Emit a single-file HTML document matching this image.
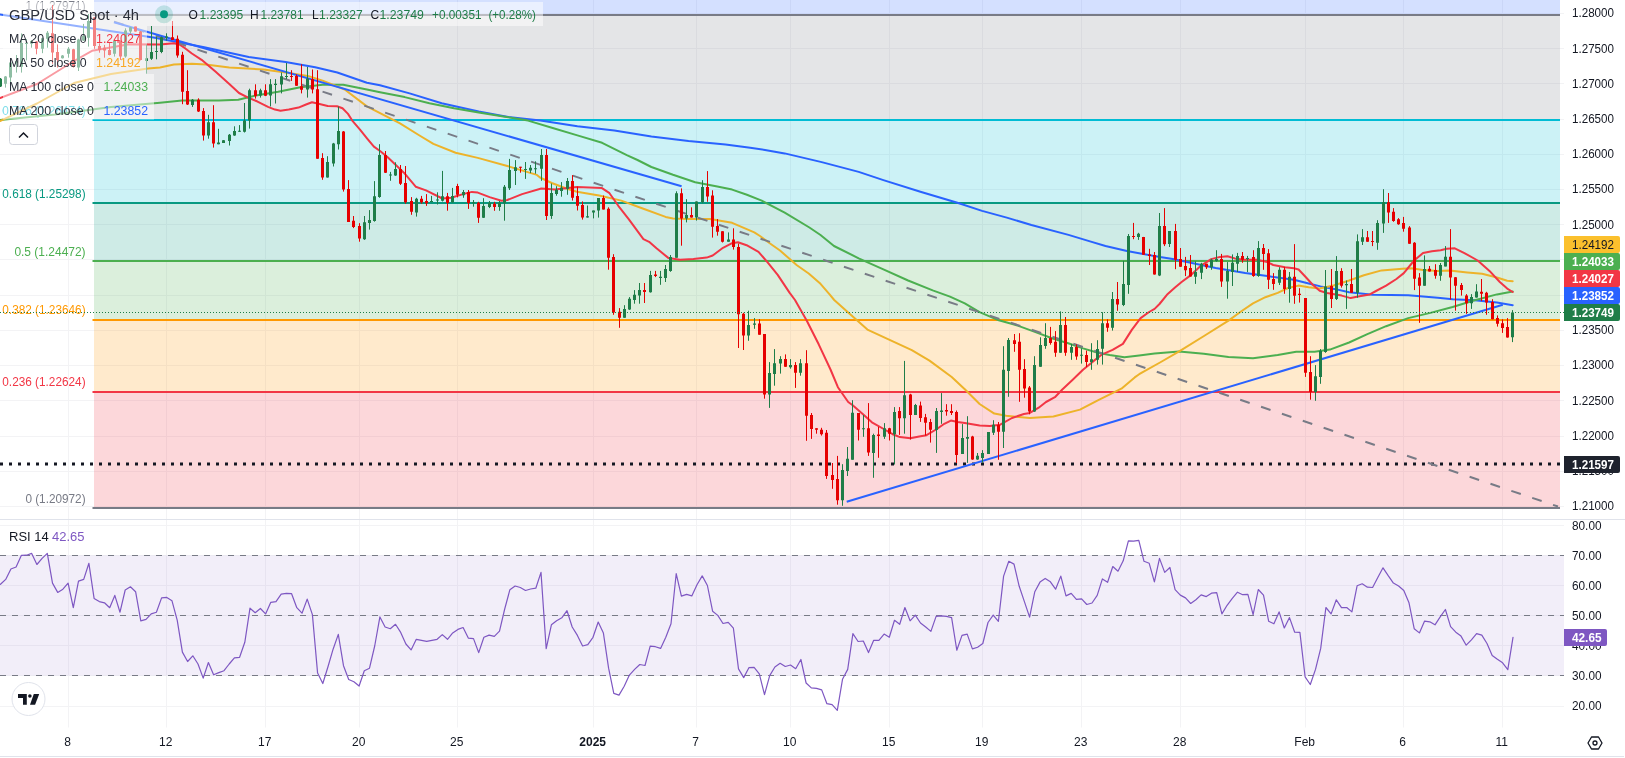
<!DOCTYPE html><html><head><meta charset="utf-8"><title>GBP/USD Spot 4h</title>
<style>html,body{margin:0;padding:0;background:#fff;}body{width:1625px;height:758px;overflow:hidden;font-family:"Liberation Sans", sans-serif;}svg{display:block;will-change:transform}text{font-family:"Liberation Sans", sans-serif;}</style></head><body>
<svg width="1625" height="758" viewBox="0 0 1625 758">
<rect width="1625" height="758" fill="#fff"/>
<path d="M68.5 0V727.5M166.5 0V727.5M265.5 0V727.5M359.5 0V727.5M457.5 0V727.5M593.5 0V727.5M696.5 0V727.5M790.5 0V727.5M889.5 0V727.5M982.5 0V727.5M1081.5 0V727.5M1180.5 0V727.5M1305.5 0V727.5M1403.5 0V727.5M1502.5 0V727.5M0 13.5H1564M0 48.5H1564M0 83.5H1564M0 119.5H1564M0 154.5H1564M0 189.5H1564M0 224.5H1564M0 259.5H1564M0 295.5H1564M0 330.5H1564M0 365.5H1564M0 400.5H1564M0 436.5H1564M0 471.5H1564M0 506.5H1564M0 706.5H1564M0 675.5H1564M0 645.5H1564M0 615.5H1564M0 585.5H1564M0 555.5H1564M0 525.5H1564" stroke="#f3f3f5" stroke-width="1" fill="none"/>
<rect x="94" y="0.0" width="1466" height="15.0" fill="#2962ff" fill-opacity="0.2"/>
<rect x="94" y="15.0" width="1466" height="105.4" fill="#787b86" fill-opacity="0.2"/>
<rect x="94" y="120.5" width="1466" height="82.8" fill="#00bcd4" fill-opacity="0.2"/>
<rect x="94" y="203.3" width="1466" height="58.2" fill="#089981" fill-opacity="0.2"/>
<rect x="94" y="261.4" width="1466" height="58.2" fill="#4caf50" fill-opacity="0.2"/>
<rect x="94" y="319.6" width="1466" height="72.0" fill="#ff9800" fill-opacity="0.2"/>
<rect x="94" y="391.6" width="1466" height="116.3" fill="#f23645" fill-opacity="0.2"/>
<path d="M92.5 15H1560" stroke="#787b86" stroke-width="2"/>
<path d="M92.5 120H1560" stroke="#00bcd4" stroke-width="2"/>
<path d="M92.5 203H1560" stroke="#089981" stroke-width="2"/>
<path d="M92.5 261H1560" stroke="#4caf50" stroke-width="2"/>
<path d="M92.5 320H1560" stroke="#ff9800" stroke-width="2"/>
<path d="M92.5 392H1560" stroke="#f23645" stroke-width="2"/>
<path d="M92.5 508H1560" stroke="#787b86" stroke-width="2"/>
<text x="25.4" y="9.8" font-size="12" fill="#787b86" textLength="60.2" lengthAdjust="spacingAndGlyphs">1 (1.27971)</text>
<text x="2.3" y="115.3" font-size="12" fill="#00bcd4" textLength="83.3" lengthAdjust="spacingAndGlyphs">0.786 (1.26474)</text>
<text x="2.3" y="198.1" font-size="12" fill="#089981" textLength="83.3" lengthAdjust="spacingAndGlyphs">0.618 (1.25298)</text>
<text x="14.4" y="256.2" font-size="12" fill="#4caf50" textLength="71.2" lengthAdjust="spacingAndGlyphs">0.5 (1.24472)</text>
<text x="2.3" y="314.4" font-size="12" fill="#ff9800" textLength="83.3" lengthAdjust="spacingAndGlyphs">0.382 (1.23646)</text>
<text x="2.3" y="386.4" font-size="12" fill="#f23645" textLength="83.3" lengthAdjust="spacingAndGlyphs">0.236 (1.22624)</text>
<text x="25.4" y="502.7" font-size="12" fill="#787b86" textLength="60.2" lengthAdjust="spacingAndGlyphs">0 (1.20972)</text>
<rect x="0" y="555.5" width="1564" height="120.0" fill="#7e57c2" fill-opacity="0.1"/>
<path d="M0 555.5H1564" stroke="#787b86" stroke-width="1" stroke-dasharray="6 6"/>
<path d="M0 615.5H1564" stroke="#787b86" stroke-width="1" stroke-dasharray="6 6"/>
<path d="M0 675.5H1564" stroke="#787b86" stroke-width="1" stroke-dasharray="6 6"/>
<path d="M0 463.9H1564" stroke="#131722" stroke-width="3" stroke-dasharray="3 6" stroke-dashoffset="0" fill="none"/>
<path d="M0.0 14.4L50.0 22.0L99.8 29.4L155.0 37.7L204.3 47.3L248.7 56.9L285.6 62.1L315.2 67.3L337.3 72.5L366.9 82.8L380.0 85.3L409.6 93.4L441.7 103.3L478.7 111.5L508.3 116.9L540.4 120.6L577.4 126.3L614.4 130.5L651.4 136.6L688.5 141.1L725.5 144.5L750.2 147.8L765.0 150.0L784.7 153.4L821.7 162.1L858.7 171.9L883.4 180.1L920.4 191.7L957.4 202.8L982.1 210.9L1006.8 217.6L1031.4 225.0L1068.5 234.9L1090.0 241.4L1105.5 246.0L1126.9 251.0L1160.0 257.1L1172.8 259.1L1215.6 268.0L1245.2 273.1L1267.3 276.1L1293.9 279.8L1308.7 283.5L1320.5 286.4L1334.3 288.9L1349.1 292.3L1372.8 294.7L1408.2 295.2L1423.0 296.6L1437.8 297.7L1452.6 299.2L1474.7 300.3L1496.9 302.6L1512.7 305.2" stroke="#2962ff" stroke-width="2" fill="none" stroke-linejoin="round" stroke-linecap="round"/>
<path d="M0.0 120.0L55.0 114.5L111.0 107.0L160.0 102.8L182.0 100.5L219.0 100.5L238.3 99.8L256.0 95.4L278.2 91.7L300.4 87.2L322.6 84.7L343.2 84.7L366.9 89.5L380.0 92.2L404.7 97.1L429.4 103.3L454.0 108.2L478.7 112.4L503.4 116.4L528.1 120.6L552.7 128.0L577.4 135.4L602.1 142.8L626.8 155.1L637.5 160.0L651.4 167.0L673.0 174.8L695.2 182.2L717.3 186.6L732.1 189.6L746.9 194.7L761.7 200.6L784.7 212.7L809.4 227.5L820.5 235.0L834.0 246.0L858.7 258.3L883.4 269.4L908.1 280.5L932.7 290.4L950.0 296.6L964.8 303.3L979.6 312.2L998.8 320.3L1015.0 324.7L1032.8 331.1L1053.4 338.8L1068.2 343.2L1083.0 348.4L1097.8 352.8L1109.6 355.0L1124.4 357.2L1139.2 355.5L1154.6 353.6L1179.2 351.4L1203.8 353.8L1228.5 356.9L1253.0 358.2L1277.7 355.1L1296.2 351.8L1314.6 351.8L1329.9 349.6L1349.1 342.5L1366.8 334.3L1386.1 326.2L1408.2 318.1L1430.4 312.9L1452.6 307.0L1474.7 300.3L1496.9 294.4L1512.7 291.5" stroke="#4caf50" stroke-width="2" fill="none" stroke-linejoin="round" stroke-linecap="round"/>
<path d="M0.0 121.0L37.0 103.5L74.0 83.0L111.0 74.0L148.0 68.4L160.0 67.4L173.9 64.6L191.9 63.7L205.7 64.6L229.3 67.4L263.4 69.5L285.6 72.5L307.8 75.9L322.6 80.6L344.7 89.5L366.9 106.4L400.0 123.4L418.7 135.0L433.4 143.9L455.6 152.7L477.8 157.9L507.3 166.0L536.9 174.9L540.0 177.5L551.7 183.0L566.4 188.5L576.9 191.8L599.1 195.5L621.3 200.6L643.4 208.8L665.6 216.9L673.0 218.4L687.8 219.1L710.0 219.1L732.1 222.8L754.3 232.4L760.0 236.0L769.0 242.8L780.0 250.5L796.9 265.3L808.7 273.5L820.5 283.8L830.0 294.8L834.2 300.0L848.2 312.6L867.4 329.6L889.6 339.9L911.8 350.2L929.5 360.6L951.7 377.0L964.8 389.2L979.6 404.0L994.3 413.6L1006.2 415.8L1029.8 418.0L1053.4 416.5L1080.0 409.6L1097.8 400.3L1121.4 388.7L1134.7 377.4L1139.2 374.2L1142.3 372.3L1160.0 362.5L1179.2 351.4L1204.0 336.0L1228.5 320.6L1241.0 311.5L1253.0 303.4L1265.4 297.2L1277.7 292.9L1288.0 288.0L1298.4 285.6L1308.7 287.2L1319.6 288.5L1334.3 285.2L1349.1 280.5L1363.9 275.3L1381.6 270.4L1402.3 268.7L1411.2 268.2L1423.0 270.1L1437.8 270.9L1449.6 270.4L1467.3 272.4L1482.1 273.8L1496.9 277.5L1507.2 280.8L1512.7 281.2" stroke="#edb32a" stroke-width="2" fill="none" stroke-linejoin="round" stroke-linecap="round"/>
<path d="M0.0 98.0L37.0 84.0L74.0 61.0L92.0 50.8L129.0 44.3L160.0 44.5L173.9 43.2L179.4 44.5L185.0 48.2L191.9 53.5L201.6 59.8L215.4 71.6L229.3 84.0L239.0 93.0L248.6 97.9L257.0 101.3L268.0 106.9L275.0 109.6L280.5 110.7L288.8 109.6L298.5 107.6L306.0 104.5L312.0 102.3L318.5 103.7L327.7 106.0L337.0 106.3L342.5 108.3L348.0 113.9L352.7 121.2L360.0 129.6L367.4 138.8L373.9 146.6L380.4 151.3L387.7 157.3L403.9 172.7L415.7 186.7L426.0 190.4L442.3 198.5L451.2 197.8L463.0 194.1L471.9 191.9L477.8 192.6L489.6 197.1L501.4 200.8L507.3 200.0L522.1 194.1L541.3 188.5L554.8 189.6L576.9 187.0L602.0 188.1L609.5 193.2L618.3 205.8L628.7 219.1L643.4 239.1L649.1 241.8L656.5 248.3L668.3 257.9L680.1 259.8L693.4 258.9L706.7 257.6L712.7 255.5L723.0 247.8L732.1 243.2L738.0 242.3L746.6 245.2L758.5 251.8L767.4 262.2L777.7 274.9L789.5 292.6L795.0 300.0L806.8 320.7L818.7 344.3L830.5 369.5L837.9 387.2L848.2 402.0L852.7 405.3L863.0 414.2L871.9 422.3L883.7 429.0L892.6 434.2L900.0 437.1L910.3 438.2L919.2 436.4L926.5 435.2L936.9 429.0L944.3 423.8L950.9 420.6L957.6 422.0L964.8 422.9L979.6 425.4L989.9 425.9L1000.2 424.7L1012.0 418.0L1023.9 414.0L1029.8 412.9L1038.7 407.7L1046.0 402.0L1054.9 397.2L1062.3 389.5L1072.7 379.8L1083.0 369.8L1091.9 362.4L1102.2 354.3L1112.6 349.8L1122.9 343.9L1131.8 329.9L1140.6 318.1L1149.1 312.0L1154.6 308.9L1159.5 304.0L1166.9 294.8L1175.0 287.5L1181.6 282.0L1190.5 275.4L1200.8 265.8L1211.2 259.1L1220.0 256.9L1227.4 256.2L1234.8 258.4L1243.7 259.8L1257.0 259.8L1267.3 262.1L1273.2 265.0L1285.1 267.2L1293.9 268.3L1298.6 269.5L1304.5 275.8L1312.5 284.5L1319.7 290.8L1326.9 293.0L1341.7 295.6L1350.6 298.1L1359.5 296.2L1369.8 294.4L1376.0 291.0L1386.1 285.7L1396.4 279.0L1403.8 273.1L1414.1 260.5L1423.0 253.1L1431.9 251.2L1440.7 250.2L1446.6 248.7L1454.8 248.3L1464.4 253.1L1477.7 260.5L1489.5 270.9L1499.8 282.0L1507.2 288.6L1512.7 292.0" stroke="#f23645" stroke-width="2" fill="none" stroke-linejoin="round" stroke-linecap="round"/>
<path d="M114 21.6L1558 506.5" stroke="#787b86" stroke-width="2" stroke-dasharray="10 12" fill="none"/>
<path d="M114 22.2L681.6 186.3" stroke="#2962ff" stroke-width="2" fill="none"/>
<path d="M846.7 501.7L1502.8 304.8" stroke="#2962ff" stroke-width="2" fill="none"/>
<path d="M0.5 78.0V87.0M5.5 76.0V87.6M10.5 62.0V82.0M16.5 55.0V72.6M21.5 33.4V72.6M26.5 39.0V60.4M31.5 40.0V47.7M42.5 37.7V53.2M47.5 31.0V47.7M62.5 55.0V58.5M68.5 47.1V57.7M78.5 38.8V71.0M83.5 23.9V41.0M88.5 14.0V46.6M114.5 39.9V56.6M125.5 28.3V57.7M130.5 27.0V33.8M146.5 44.4V73.7M151.5 26.0V59.9M156.5 36.6V59.3M161.5 36.6V53.2M166.5 33.3V40.5M192.5 99.0V106.9M208.5 114.8V138.7M218.5 128.8V144.3M223.5 140.0V143.0M229.5 134.0V145.5M234.5 126.3V135.8M239.5 125.1V131.8M244.5 103.0V132.5M249.5 88.7V128.6M260.5 88.7V97.6M270.5 79.1V106.4M275.5 79.1V103.5M281.5 72.5V93.4M286.5 62.9V79.1M307.5 67.0V97.6M327.5 156.2V177.6M333.5 142.9V166.5M338.5 106.6V149.5M364.5 216.0V239.9M369.5 210.1V229.6M374.5 181.1V221.7M379.5 144.2V197.8M390.5 171.9V180.8M395.5 162.3V175.9M416.5 197.8V216.6M431.5 195.9V202.2M437.5 192.3V204.5M442.5 170.9V201.5M452.5 187.9V202.7M463.5 190.0V197.8M473.5 200.0V206.7M483.5 198.2V218.0M489.5 201.0V208.1M499.5 201.0V210.8M504.5 185.0V220.7M509.5 158.9V190.0M515.5 160.1V185.0M525.5 162.0V178.9M530.5 165.0V173.1M535.5 161.3V173.7M541.5 149.0V180.8M551.5 183.5V218.9M556.5 186.2V195.7M561.5 182.1V196.7M567.5 178.0V194.8M587.5 205.5V217.6M593.5 210.5V218.4M598.5 198.1V217.6M624.5 305.2V317.8M629.5 297.1V309.9M634.5 290.1V303.7M639.5 283.0V303.7M650.5 270.9V292.6M660.5 270.9V284.8M665.5 265.0V282.0M670.5 255.0V271.8M676.5 191.3V257.7M686.5 199.2V222.4M696.5 201.4V220.6M702.5 180.2V203.2M728.5 232.4V241.7M748.5 310.7V340.8M754.5 318.1V328.8M769.5 362.1V407.9M774.5 349.1V385.7M780.5 356.2V373.6M790.5 359.1V368.7M800.5 359.1V375.7M842.5 464.2V505.8M847.5 447.0V476.0M852.5 400.2V459.7M863.5 415.0V436.8M873.5 433.7V477.8M884.5 423.1V438.9M894.5 407.1V464.5M904.5 360.9V433.7M915.5 403.9V414.9M936.5 408.0V452.9M941.5 393.1V423.8M962.5 424.1V453.9M967.5 416.2V462.9M977.5 453.0V459.8M982.5 450.1V462.8M988.5 432.1V453.9M993.5 420.2V435.0M1003.5 346.2V448.0M1008.5 338.0V396.8M1034.5 356.2V411.8M1040.5 337.3V366.8M1045.5 323.2V348.8M1060.5 311.4V352.8M1071.5 343.9V359.8M1081.5 348.4V363.6M1091.5 343.2V369.8M1097.5 340.2V364.6M1102.5 312.2V364.6M1112.5 292.0V330.6M1123.5 260.9V306.1M1128.5 234.0V293.8M1138.5 232.8V239.9M1159.5 213.0V276.1M1169.5 231.0V247.0M1195.5 261.3V283.9M1201.5 262.8V279.1M1211.5 258.8V269.8M1216.5 250.2V261.8M1227.5 262.1V298.7M1232.5 254.4V286.0M1237.5 252.9V272.0M1247.5 255.9V272.0M1258.5 241.1V276.8M1279.5 267.2V285.0M1289.5 272.0V302.7M1315.5 365.1V400.8M1320.5 349.1V383.8M1325.5 270.0V352.8M1336.5 256.1V300.0M1346.5 280.5V308.9M1357.5 234.4V297.7M1362.5 229.1V245.0M1377.5 220.2V249.8M1383.5 189.2V232.9M1424.5 255.4V285.7M1440.5 263.0V280.8M1445.5 246.1V266.4M1471.5 294.1V308.9M1476.5 284.2V297.6M1512.5 310.1V342.1" stroke="#1f7d48" stroke-width="1" fill="none"/>
<path d="M36.5 41.0V54.3M52.5 5.0V63.8M57.5 44.4V67.6M73.5 48.8V67.6M94.5 17.0V48.8M99.5 43.3V52.7M104.5 44.9V57.7M109.5 42.1V55.4M120.5 40.5V59.9M135.5 26.6V31.6M140.5 31.0V60.4M172.5 21.0V39.9M177.5 35.5V57.7M182.5 51.8V104.2M187.5 70.2V105.0M198.5 98.3V112.0M203.5 108.1V140.6M213.5 105.2V147.6M255.5 84.3V98.6M265.5 84.3V96.1M291.5 70.2V80.9M296.5 74.4V85.8M301.5 64.3V93.4M312.5 69.5V93.4M317.5 70.2V158.8M322.5 153.2V179.8M343.5 131.0V191.6M348.5 180.1V221.9M353.5 216.0V228.1M359.5 223.2V241.7M385.5 151.0V173.0M400.5 165.0V185.0M405.5 166.0V203.7M411.5 197.1V214.8M421.5 195.9V203.7M426.5 194.1V205.9M447.5 192.9V210.7M457.5 183.8V197.4M468.5 190.0V208.9M478.5 201.8V222.9M494.5 201.8V210.8M520.5 166.8V172.7M546.5 149.0V220.0M572.5 175.1V200.6M577.5 186.6V210.5M582.5 201.4V219.6M603.5 195.5V209.5M608.5 207.3V269.7M613.5 254.2V314.8M619.5 308.1V327.8M644.5 283.0V303.0M655.5 270.9V277.1M681.5 188.4V245.7M691.5 207.3V217.6M707.5 171.1V201.8M712.5 190.3V237.6M717.5 219.1V235.7M722.5 231.2V242.5M733.5 228.3V249.6M738.5 243.6V348.0M743.5 312.8V350.0M759.5 319.2V334.7M764.5 334.0V398.7M785.5 354.4V366.8M795.5 362.1V387.9M806.5 350.2V440.8M811.5 413.0V438.9M816.5 428.2V433.7M821.5 427.8V435.6M826.5 430.0V478.9M832.5 463.0V488.8M837.5 455.9V504.7M858.5 413.0V440.5M868.5 403.1V455.9M878.5 426.8V457.8M889.5 427.8V440.5M899.5 407.1V434.9M910.5 393.8V439.6M920.5 401.6V421.9M925.5 413.9V435.6M930.5 418.9V442.6M946.5 404.2V415.7M951.5 404.2V415.0M956.5 410.5V463.0M972.5 435.8V459.8M998.5 422.0V459.8M1014.5 334.0V351.8M1019.5 333.2V401.8M1024.5 359.2V397.7M1029.5 386.0V414.3M1050.5 326.9V344.7M1055.5 331.1V356.8M1065.5 317.0V355.8M1076.5 344.4V359.8M1086.5 350.6V367.1M1107.5 319.3V331.8M1117.5 282.0V310.8M1133.5 222.9V239.2M1143.5 236.9V254.7M1149.5 248.8V265.0M1154.5 252.0V274.6M1164.5 208.1V246.1M1175.5 223.9V269.2M1180.5 248.0V266.8M1185.5 256.9V276.1M1190.5 255.0V276.5M1206.5 263.8V269.0M1221.5 253.9V286.9M1242.5 252.0V262.8M1253.5 250.2V276.8M1263.5 244.0V269.8M1268.5 249.1V289.0M1273.5 273.1V289.8M1284.5 267.2V293.8M1294.5 244.1V303.8M1299.5 288.2V302.6M1305.5 298.0V376.9M1310.5 356.2V399.7M1331.5 269.0V308.0M1341.5 268.2V287.6M1351.5 269.0V292.7M1367.5 231.0V241.8M1372.5 231.0V246.1M1388.5 193.0V222.9M1393.5 208.1V221.8M1398.5 218.1V224.8M1403.5 216.9V231.7M1409.5 226.1V243.8M1414.5 242.1V290.1M1419.5 273.1V322.8M1429.5 266.0V271.6M1435.5 264.2V278.7M1450.5 229.1V299.6M1455.5 277.0V310.7M1461.5 283.0V295.6M1466.5 294.1V313.9M1481.5 279.0V301.1M1486.5 291.8V314.8M1492.5 299.2V319.3M1497.5 315.4V326.6M1502.5 319.3V332.9M1507.5 318.1V337.6" stroke="#e60000" stroke-width="1" fill="none"/>
<path d="M-1.0 78.7h3v7.8h-3zM4.0 76.5h3v7.2h-3zM9.0 62.6h3v15.0h-3zM15.0 61.0h3v2.0h-3zM20.0 42.9h3v23.9h-3zM25.0 42.7h3v1.2h-3zM30.0 41.0h3v2.8h-3zM41.0 38.3h3v10.5h-3zM46.0 32.7h3v6.1h-3zM61.0 55.4h3v2.8h-3zM67.0 48.8h3v5.0h-3zM77.0 39.4h3v28.2h-3zM82.0 36.0h3v4.5h-3zM87.0 21.0h3v16.7h-3zM113.0 41.0h3v12.8h-3zM124.0 30.5h3v26.1h-3zM129.0 27.2h3v4.4h-3zM145.0 58.2h3v2.8h-3zM150.0 52.1h3v6.7h-3zM155.0 51.0h3v1.1h-3zM160.0 37.2h3v14.9h-3zM165.0 36.6h3v1.1h-3zM191.0 99.8h3v5.2h-3zM207.0 122.2h3v13.3h-3zM217.0 142.4h3v1.9h-3zM222.0 140.2h3v2.7h-3zM228.0 134.7h3v6.4h-3zM233.0 131.0h3v4.5h-3zM238.0 130.7h3v1.1h-3zM243.0 120.4h3v11.4h-3zM248.0 90.2h3v30.3h-3zM259.0 90.2h3v5.2h-3zM269.0 84.3h3v11.1h-3zM274.0 83.8h3v1.2h-3zM280.0 76.2h3v8.4h-3zM285.0 75.9h3v1.0h-3zM306.0 78.4h3v11.1h-3zM326.0 162.1h3v15.5h-3zM332.0 143.6h3v19.9h-3zM337.0 131.0h3v13.3h-3zM363.0 222.2h3v17.0h-3zM368.0 220.0h3v2.9h-3zM373.0 196.3h3v24.7h-3zM378.0 155.0h3v42.1h-3zM389.0 174.6h3v1.0h-3zM394.0 169.0h3v6.6h-3zM415.0 198.8h3v13.8h-3zM430.0 201.0h3v1.0h-3zM436.0 199.6h3v1.0h-3zM441.0 196.3h3v4.5h-3zM451.0 195.9h3v6.3h-3zM462.0 191.9h3v3.4h-3zM472.0 202.2h3v1.1h-3zM482.0 205.9h3v11.9h-3zM488.0 203.0h3v4.0h-3zM498.0 202.7h3v4.3h-3zM503.0 186.7h3v16.6h-3zM508.0 170.0h3v18.2h-3zM514.0 167.2h3v3.7h-3zM524.0 169.0h3v1.0h-3zM529.0 167.8h3v2.7h-3zM534.0 168.2h3v1.1h-3zM540.0 155.0h3v13.7h-3zM550.0 193.0h3v23.0h-3zM555.0 189.8h3v4.2h-3zM560.0 187.7h3v3.3h-3zM566.0 181.0h3v7.8h-3zM586.0 216.2h3v1.4h-3zM592.0 210.5h3v2.0h-3zM597.0 198.1h3v12.4h-3zM623.0 308.9h3v8.9h-3zM628.0 298.8h3v10.8h-3zM633.0 294.8h3v5.2h-3zM638.0 290.0h3v5.6h-3zM649.0 274.9h3v17.4h-3zM659.0 276.8h3v1.1h-3zM664.0 269.0h3v8.9h-3zM669.0 257.0h3v14.0h-3zM675.0 193.2h3v64.5h-3zM685.0 215.0h3v3.4h-3zM695.0 201.4h3v16.2h-3zM701.0 187.0h3v15.1h-3zM727.0 239.4h3v2.3h-3zM747.0 325.1h3v10.5h-3zM753.0 323.6h3v1.2h-3zM768.0 373.1h3v21.5h-3zM773.0 363.2h3v10.7h-3zM779.0 359.1h3v4.4h-3zM789.0 365.0h3v2.2h-3zM799.0 363.2h3v9.5h-3zM841.0 470.1h3v30.1h-3zM846.0 458.8h3v12.3h-3zM851.0 412.7h3v47.0h-3zM862.0 428.2h3v1.1h-3zM872.0 434.9h3v18.0h-3zM883.0 428.2h3v8.6h-3zM893.0 412.0h3v22.2h-3zM903.0 395.3h3v23.0h-3zM914.0 405.0h3v9.9h-3zM935.0 411.0h3v19.0h-3zM940.0 410.5h3v1.5h-3zM961.0 438.1h3v15.8h-3zM966.0 437.1h3v1.7h-3zM976.0 455.7h3v3.7h-3zM981.0 453.0h3v4.9h-3zM987.0 432.1h3v21.8h-3zM992.0 424.7h3v8.1h-3zM1002.0 369.8h3v62.0h-3zM1007.0 339.9h3v31.1h-3zM1033.0 365.1h3v46.3h-3zM1039.0 345.0h3v21.8h-3zM1044.0 338.0h3v7.9h-3zM1059.0 325.0h3v27.8h-3zM1070.0 346.9h3v5.9h-3zM1080.0 354.7h3v1.1h-3zM1090.0 359.2h3v2.8h-3zM1096.0 349.1h3v10.7h-3zM1101.0 323.2h3v25.6h-3zM1111.0 299.1h3v28.6h-3zM1122.0 283.9h3v21.0h-3zM1127.0 235.9h3v49.1h-3zM1137.0 233.7h3v3.2h-3zM1158.0 225.9h3v49.5h-3zM1168.0 231.0h3v13.0h-3zM1194.0 272.1h3v4.7h-3zM1200.0 263.8h3v8.9h-3zM1210.0 259.8h3v7.4h-3zM1215.0 259.1h3v1.8h-3zM1226.0 270.9h3v10.7h-3zM1231.0 262.8h3v9.2h-3zM1236.0 255.9h3v7.9h-3zM1246.0 257.9h3v1.2h-3zM1257.0 248.0h3v28.1h-3zM1278.0 269.8h3v13.0h-3zM1288.0 276.8h3v12.2h-3zM1314.0 376.2h3v15.8h-3zM1319.0 350.9h3v26.0h-3zM1324.0 286.6h3v65.5h-3zM1335.0 270.9h3v28.0h-3zM1345.0 283.9h3v1.3h-3zM1356.0 241.3h3v51.4h-3zM1361.0 237.3h3v4.5h-3zM1376.0 222.9h3v19.9h-3zM1382.0 202.2h3v21.4h-3zM1423.0 269.0h3v16.7h-3zM1439.0 265.0h3v10.8h-3zM1444.0 256.8h3v9.6h-3zM1470.0 297.1h3v6.2h-3zM1475.0 291.5h3v5.9h-3zM1511.0 312.4h3v24.9h-3z" fill="#1f7d48"/>
<path d="M35.0 41.6h3v7.2h-3zM51.0 33.3h3v19.2h-3zM56.0 52.1h3v7.8h-3zM72.0 49.3h3v17.8h-3zM93.0 17.5h3v28.5h-3zM98.0 46.0h3v3.9h-3zM103.0 47.7h3v2.8h-3zM108.0 49.9h3v5.0h-3zM119.0 41.0h3v15.6h-3zM134.0 26.6h3v5.0h-3zM139.0 31.6h3v28.3h-3zM171.0 37.2h3v2.7h-3zM176.0 38.8h3v16.6h-3zM181.0 54.7h3v37.0h-3zM186.0 90.9h3v13.6h-3zM197.0 99.8h3v11.8h-3zM202.0 110.9h3v24.6h-3zM212.0 122.2h3v21.4h-3zM254.0 90.2h3v5.9h-3zM264.0 90.2h3v5.5h-3zM290.0 75.9h3v1.0h-3zM295.0 75.9h3v9.9h-3zM300.0 86.2h3v3.5h-3zM311.0 79.1h3v10.4h-3zM316.0 89.2h3v69.6h-3zM321.0 158.1h3v19.5h-3zM342.0 131.5h3v57.9h-3zM347.0 188.9h3v33.0h-3zM352.0 220.7h3v6.2h-3zM358.0 225.9h3v12.5h-3zM384.0 155.0h3v17.7h-3zM399.0 169.0h3v14.8h-3zM404.0 183.0h3v19.2h-3zM410.0 201.0h3v10.8h-3zM420.0 198.8h3v3.4h-3zM425.0 201.0h3v2.3h-3zM446.0 196.3h3v6.7h-3zM456.0 186.0h3v8.8h-3zM467.0 191.9h3v11.1h-3zM477.0 202.7h3v15.1h-3zM493.0 203.7h3v3.3h-3zM519.0 166.8h3v1.0h-3zM545.0 155.0h3v61.0h-3zM571.0 181.1h3v16.6h-3zM576.0 195.9h3v9.9h-3zM581.0 205.1h3v12.5h-3zM602.0 198.1h3v11.4h-3zM607.0 208.8h3v48.9h-3zM612.0 257.0h3v55.6h-3zM618.0 311.8h3v6.0h-3zM643.0 290.0h3v1.9h-3zM654.0 274.6h3v1.3h-3zM680.0 193.2h3v25.2h-3zM690.0 215.0h3v2.6h-3zM706.0 187.0h3v9.6h-3zM711.0 195.5h3v31.3h-3zM716.0 226.1h3v5.6h-3zM721.0 231.2h3v10.5h-3zM732.0 239.4h3v7.5h-3zM737.0 247.1h3v67.1h-3zM742.0 313.8h3v21.8h-3zM758.0 323.6h3v11.1h-3zM763.0 334.0h3v60.6h-3zM784.0 359.1h3v7.7h-3zM794.0 365.0h3v7.7h-3zM805.0 363.2h3v52.5h-3zM810.0 414.9h3v14.1h-3zM815.0 428.2h3v1.5h-3zM820.0 429.7h3v4.5h-3zM825.0 432.7h3v43.3h-3zM831.0 475.1h3v4.9h-3zM836.0 478.9h3v21.3h-3zM857.0 413.0h3v16.7h-3zM867.0 428.2h3v24.4h-3zM877.0 434.6h3v1.3h-3zM888.0 428.2h3v5.5h-3zM898.0 411.0h3v7.3h-3zM909.0 394.6h3v20.3h-3zM919.0 405.6h3v12.3h-3zM924.0 417.2h3v5.6h-3zM929.0 421.9h3v7.8h-3zM945.0 410.0h3v1.6h-3zM950.0 411.0h3v2.0h-3zM955.0 412.0h3v43.0h-3zM971.0 436.5h3v22.9h-3zM997.0 425.0h3v6.8h-3zM1013.0 340.2h3v3.7h-3zM1018.0 341.7h3v28.1h-3zM1023.0 369.1h3v19.5h-3zM1028.0 387.6h3v23.8h-3zM1049.0 338.0h3v4.9h-3zM1054.0 341.7h3v11.1h-3zM1064.0 325.0h3v27.8h-3zM1075.0 346.9h3v9.6h-3zM1085.0 355.0h3v7.0h-3zM1106.0 323.2h3v4.5h-3zM1116.0 299.1h3v5.5h-3zM1132.0 235.9h3v1.0h-3zM1142.0 236.9h3v17.8h-3zM1148.0 254.4h3v1.5h-3zM1153.0 255.0h3v19.6h-3zM1163.0 225.9h3v18.4h-3zM1174.0 231.0h3v28.8h-3zM1179.0 259.1h3v7.7h-3zM1184.0 266.1h3v4.1h-3zM1189.0 268.0h3v8.5h-3zM1205.0 263.8h3v3.4h-3zM1220.0 259.1h3v22.5h-3zM1241.0 255.9h3v3.9h-3zM1252.0 256.9h3v19.2h-3zM1262.0 248.0h3v5.9h-3zM1267.0 253.2h3v26.6h-3zM1272.0 279.1h3v4.8h-3zM1283.0 269.8h3v19.2h-3zM1293.0 276.8h3v18.9h-3zM1298.0 293.8h3v1.2h-3zM1304.0 298.0h3v74.8h-3zM1309.0 372.0h3v20.0h-3zM1330.0 286.1h3v12.8h-3zM1340.0 270.9h3v14.8h-3zM1350.0 283.9h3v8.8h-3zM1366.0 237.3h3v4.5h-3zM1371.0 240.9h3v1.0h-3zM1387.0 202.2h3v10.3h-3zM1392.0 211.8h3v9.3h-3zM1397.0 219.2h3v5.1h-3zM1402.0 222.9h3v5.9h-3zM1408.0 227.6h3v16.2h-3zM1413.0 242.8h3v35.9h-3zM1418.0 277.5h3v8.2h-3zM1428.0 268.7h3v2.9h-3zM1434.0 270.1h3v5.7h-3zM1449.0 256.8h3v20.7h-3zM1454.0 277.2h3v8.5h-3zM1460.0 284.9h3v5.2h-3zM1465.0 295.6h3v7.7h-3zM1480.0 291.8h3v1.9h-3zM1485.0 292.7h3v9.9h-3zM1491.0 302.1h3v17.2h-3zM1496.0 318.1h3v5.6h-3zM1501.0 323.2h3v4.9h-3zM1506.0 326.9h3v10.7h-3z" fill="#e60000"/>
<path d="M0 312.5H1564" stroke="#1f7d48" stroke-width="1" stroke-dasharray="1 2" fill="none"/>
<path d="M0.5 584.3L5.7 579.4L10.9 569.0L16.1 567.0L21.3 555.4L26.5 555.2L31.7 553.4L36.9 564.5L42.1 558.4L47.3 553.4L52.5 583.1L57.7 592.4L62.9 589.2L68.1 583.1L73.3 607.7L78.5 581.1L83.7 579.4L88.9 563.3L94.1 598.4L99.3 601.6L104.5 602.8L109.7 607.7L114.8 595.4L120.0 612.2L125.2 590.0L130.4 586.8L135.6 591.7L140.8 620.8L146.0 619.3L151.2 613.9L156.4 612.2L161.6 597.9L166.8 597.4L172.0 600.8L177.2 620.1L182.4 652.1L187.6 661.5L192.8 655.8L198.0 664.0L203.2 678.1L208.4 662.5L213.6 674.8L218.8 672.6L224.0 670.7L229.2 664.0L234.4 657.8L239.6 657.3L244.8 642.3L250.0 608.2L255.2 612.7L260.4 608.5L265.6 613.9L270.8 602.3L276.0 601.6L281.2 594.2L286.4 593.4L291.6 593.7L296.8 607.7L302.0 613.2L307.2 599.1L312.4 614.6L317.6 673.1L322.8 683.5L327.9 667.0L333.1 649.2L338.3 634.4L343.5 665.7L348.7 679.5L353.9 681.8L359.1 686.0L364.3 670.7L369.5 668.2L374.7 646.0L379.9 616.9L385.1 627.0L390.3 628.7L395.5 624.3L400.7 632.4L405.9 644.0L411.1 649.9L416.3 639.3L421.5 640.3L426.7 641.3L431.9 640.3L437.1 639.3L442.3 634.6L447.5 639.3L452.7 632.9L457.9 629.4L463.1 627.5L468.3 638.1L473.5 638.6L478.7 652.6L483.9 637.3L489.1 635.1L494.3 636.4L499.5 631.2L504.7 609.0L509.9 589.7L515.1 586.0L520.3 587.5L525.5 590.5L530.6 589.0L535.8 588.2L541.0 572.4L546.2 648.7L551.4 624.8L556.6 620.8L561.8 617.8L567.0 610.7L572.2 627.0L577.4 635.4L582.6 646.0L587.8 644.7L593.0 637.3L598.2 622.0L603.4 633.1L608.6 668.2L613.8 693.4L619.0 695.1L624.2 686.2L629.4 675.1L634.6 669.4L639.8 664.5L645.0 665.5L650.2 646.2L655.4 646.7L660.6 648.4L665.8 637.3L671.0 623.8L676.2 573.7L681.4 596.1L686.6 594.4L691.8 595.9L697.0 584.8L702.2 575.9L707.4 585.5L712.6 611.2L717.8 615.4L723.0 623.5L728.2 622.3L733.4 628.2L738.5 668.9L743.7 677.6L748.9 667.7L754.1 667.4L759.3 673.9L764.5 694.6L769.7 675.6L774.9 667.0L780.1 663.3L785.3 666.5L790.5 665.0L795.7 668.7L800.9 659.5L806.1 683.0L811.3 687.9L816.5 688.4L821.7 689.9L826.9 703.7L832.1 704.7L837.3 710.4L842.5 679.3L847.7 669.4L852.9 633.6L858.1 641.5L863.3 641.0L868.5 652.6L873.7 640.3L878.9 640.3L884.1 634.1L889.3 637.3L894.5 620.3L899.7 624.3L904.9 607.5L910.1 620.8L915.3 615.1L920.5 623.0L925.7 627.0L930.9 631.4L936.1 616.4L941.3 615.9L946.4 616.4L951.6 617.6L956.8 650.2L962.0 635.4L967.2 634.1L972.4 648.9L977.6 647.2L982.8 643.5L988.0 622.5L993.2 615.1L998.4 621.3L1003.6 576.1L1008.8 561.3L1014.0 564.1L1019.2 586.3L1024.4 601.6L1029.6 617.1L1034.8 591.7L1040.0 582.1L1045.2 578.4L1050.4 581.8L1055.6 589.2L1060.8 576.1L1066.0 595.9L1071.2 593.4L1076.4 599.3L1081.6 598.8L1086.8 604.5L1092.0 603.0L1097.2 595.4L1102.4 578.9L1107.6 582.3L1112.8 566.5L1118.0 571.2L1123.2 560.8L1128.4 540.9L1133.6 541.1L1138.8 540.4L1144.0 561.3L1149.2 563.3L1154.4 581.8L1159.5 558.4L1164.7 572.4L1169.9 567.5L1175.1 589.7L1180.3 595.1L1185.5 597.9L1190.7 603.5L1195.9 599.8L1201.1 594.9L1206.3 596.6L1211.5 593.2L1216.7 592.7L1221.9 613.9L1227.1 605.3L1232.3 598.4L1237.5 592.2L1242.7 594.7L1247.9 594.4L1253.1 614.6L1258.3 589.5L1263.5 595.1L1268.7 621.3L1273.9 623.8L1279.1 611.9L1284.3 628.0L1289.5 617.6L1294.7 632.2L1299.9 632.4L1305.1 676.8L1310.3 684.5L1315.5 669.4L1320.7 648.4L1325.9 607.5L1331.1 613.9L1336.3 599.8L1341.5 607.7L1346.7 607.5L1351.9 611.9L1357.1 585.8L1362.2 583.8L1367.4 587.2L1372.6 587.5L1377.8 577.4L1383.0 567.8L1388.2 575.7L1393.4 583.1L1398.6 586.0L1403.8 590.5L1409.0 602.8L1414.2 628.7L1419.4 632.9L1424.6 621.1L1429.8 621.8L1435.0 624.8L1440.2 616.9L1445.4 609.5L1450.6 626.7L1455.8 632.2L1461.0 636.1L1466.2 645.2L1471.4 639.8L1476.6 633.6L1481.8 635.1L1487.0 643.5L1492.2 655.4L1497.4 659.3L1502.6 662.8L1507.8 669.7L1513.0 637.3" stroke="#7e57c2" stroke-width="1.2" fill="none" stroke-linejoin="round" stroke-linecap="round"/>
<path d="M0 519.5H1625" stroke="#e0e3eb" stroke-width="1"/>
<path d="M0 756.5H1624" stroke="#e0e3eb" stroke-width="1"/>
<rect x="3" y="2" width="540" height="24" fill="#fff" fill-opacity="0.5"/>
<rect x="3" y="26" width="144" height="48" fill="#fff" fill-opacity="0.5"/>
<rect x="3" y="74" width="151" height="45.5" fill="#fff" fill-opacity="0.5"/>
<text x="9" y="19.5" font-size="14" fill="#2a2e39" textLength="130" lengthAdjust="spacingAndGlyphs">GBP/USD Spot · 4h</text>
<circle cx="164" cy="14.3" r="9" fill="#089981" fill-opacity="0.2"/><circle cx="164" cy="14.3" r="4" fill="#089981"/>
<text x="188.5" y="19" font-size="12" fill="#131722">O</text>
<text x="199.6" y="19" font-size="13" fill="#1f7d48" textLength="43.6" lengthAdjust="spacingAndGlyphs">1.23395</text>
<text x="249.9" y="19" font-size="12" fill="#131722">H</text>
<text x="260.6" y="19" font-size="13" fill="#1f7d48" textLength="42.9" lengthAdjust="spacingAndGlyphs">1.23781</text>
<text x="312.0" y="19" font-size="12" fill="#131722">L</text>
<text x="319.1" y="19" font-size="13" fill="#1f7d48" textLength="43.6" lengthAdjust="spacingAndGlyphs">1.23327</text>
<text x="370.4" y="19" font-size="12" fill="#131722">C</text>
<text x="379.5" y="19" font-size="13" fill="#1f7d48" textLength="44.4" lengthAdjust="spacingAndGlyphs">1.23749</text>
<text x="432.0" y="19" font-size="13" fill="#1f7d48" textLength="49.5" lengthAdjust="spacingAndGlyphs">+0.00351</text>
<text x="488.4" y="19" font-size="13" fill="#1f7d48" textLength="47.5" lengthAdjust="spacingAndGlyphs">(+0.28%)</text>
<text x="9" y="43" font-size="13" fill="#2a2e39" textLength="77.6" lengthAdjust="spacingAndGlyphs">MA 20 close 0</text>
<text x="96.1" y="43" font-size="13" fill="#f23645" textLength="44.5" lengthAdjust="spacingAndGlyphs">1.24027</text>
<text x="9" y="67" font-size="13" fill="#2a2e39" textLength="77.6" lengthAdjust="spacingAndGlyphs">MA 50 close 0</text>
<text x="96.1" y="67" font-size="13" fill="#f9a825" textLength="44.5" lengthAdjust="spacingAndGlyphs">1.24192</text>
<text x="9" y="91" font-size="13" fill="#2a2e39" textLength="85.0" lengthAdjust="spacingAndGlyphs">MA 100 close 0</text>
<text x="103.5" y="91" font-size="13" fill="#4caf50" textLength="44.5" lengthAdjust="spacingAndGlyphs">1.24033</text>
<text x="9" y="115" font-size="13" fill="#2a2e39" textLength="85.0" lengthAdjust="spacingAndGlyphs">MA 200 close 0</text>
<text x="103.5" y="115" font-size="13" fill="#2962ff" textLength="44.5" lengthAdjust="spacingAndGlyphs">1.23852</text>
<rect x="9.5" y="124.5" width="28" height="20" rx="3" fill="#fff" stroke="#d1d4dc"/>
<path d="M19 137.5l4.5-4.5 4.5 4.5" stroke="#131722" stroke-width="1.5" fill="none"/>
<text x="9" y="541" font-size="13" fill="#131722">RSI 14</text><text x="52" y="541" font-size="13" fill="#7e57c2">42.65</text>
<circle cx="28.5" cy="699" r="16.5" fill="#fff" stroke="#e0e3eb" stroke-width="1"/>
<path d="M18 694h8.8v10.7h-3.8v-6.8h-5z" fill="#131722"/><circle cx="29.9" cy="696" r="1.8" fill="#131722"/><path d="M33.8 694h5.4l-4.1 10.7h-5.1z" fill="#131722"/>
<text x="1572" y="17.3" font-size="12" fill="#131722" textLength="42" lengthAdjust="spacingAndGlyphs">1.28000</text>
<text x="1572" y="52.5" font-size="12" fill="#131722" textLength="42" lengthAdjust="spacingAndGlyphs">1.27500</text>
<text x="1572" y="87.7" font-size="12" fill="#131722" textLength="42" lengthAdjust="spacingAndGlyphs">1.27000</text>
<text x="1572" y="122.9" font-size="12" fill="#131722" textLength="42" lengthAdjust="spacingAndGlyphs">1.26500</text>
<text x="1572" y="158.1" font-size="12" fill="#131722" textLength="42" lengthAdjust="spacingAndGlyphs">1.26000</text>
<text x="1572" y="193.3" font-size="12" fill="#131722" textLength="42" lengthAdjust="spacingAndGlyphs">1.25500</text>
<text x="1572" y="228.6" font-size="12" fill="#131722" textLength="42" lengthAdjust="spacingAndGlyphs">1.25000</text>
<text x="1572" y="263.8" font-size="12" fill="#131722" textLength="42" lengthAdjust="spacingAndGlyphs">1.24500</text>
<text x="1572" y="299.0" font-size="12" fill="#131722" textLength="42" lengthAdjust="spacingAndGlyphs">1.24000</text>
<text x="1572" y="334.2" font-size="12" fill="#131722" textLength="42" lengthAdjust="spacingAndGlyphs">1.23500</text>
<text x="1572" y="369.4" font-size="12" fill="#131722" textLength="42" lengthAdjust="spacingAndGlyphs">1.23000</text>
<text x="1572" y="404.6" font-size="12" fill="#131722" textLength="42" lengthAdjust="spacingAndGlyphs">1.22500</text>
<text x="1572" y="439.8" font-size="12" fill="#131722" textLength="42" lengthAdjust="spacingAndGlyphs">1.22000</text>
<text x="1572" y="475.0" font-size="12" fill="#131722" textLength="42" lengthAdjust="spacingAndGlyphs">1.21500</text>
<text x="1572" y="510.2" font-size="12" fill="#131722" textLength="42" lengthAdjust="spacingAndGlyphs">1.21000</text>
<text x="1572" y="709.8" font-size="12" fill="#131722" textLength="29.5" lengthAdjust="spacingAndGlyphs">20.00</text>
<text x="1572" y="679.8" font-size="12" fill="#131722" textLength="29.5" lengthAdjust="spacingAndGlyphs">30.00</text>
<text x="1572" y="649.8" font-size="12" fill="#131722" textLength="29.5" lengthAdjust="spacingAndGlyphs">40.00</text>
<text x="1572" y="619.8" font-size="12" fill="#131722" textLength="29.5" lengthAdjust="spacingAndGlyphs">50.00</text>
<text x="1572" y="589.8" font-size="12" fill="#131722" textLength="29.5" lengthAdjust="spacingAndGlyphs">60.00</text>
<text x="1572" y="559.8" font-size="12" fill="#131722" textLength="29.5" lengthAdjust="spacingAndGlyphs">70.00</text>
<text x="1572" y="529.8" font-size="12" fill="#131722" textLength="29.5" lengthAdjust="spacingAndGlyphs">80.00</text>
<path d="M1564 236.1h54a2 2 0 0 1 2 2v12.8a2 2 0 0 1 -2 2h-54z" fill="#fbc02d"/>
<text x="1572" y="248.8" font-size="12" fill="#131722" textLength="42" lengthAdjust="spacingAndGlyphs">1.24192</text>
<path d="M1564 253.1h54a2 2 0 0 1 2 2v12.8a2 2 0 0 1 -2 2h-54z" fill="#4caf50"/>
<text x="1572" y="265.8" font-size="12" fill="#fff" textLength="42" lengthAdjust="spacingAndGlyphs" font-weight="bold">1.24033</text>
<path d="M1564 270.1h54a2 2 0 0 1 2 2v12.8a2 2 0 0 1 -2 2h-54z" fill="#f23645"/>
<text x="1572" y="282.8" font-size="12" fill="#fff" textLength="42" lengthAdjust="spacingAndGlyphs" font-weight="bold">1.24027</text>
<path d="M1564 287.1h54a2 2 0 0 1 2 2v12.8a2 2 0 0 1 -2 2h-54z" fill="#2962ff"/>
<text x="1572" y="299.8" font-size="12" fill="#fff" textLength="42" lengthAdjust="spacingAndGlyphs" font-weight="bold">1.23852</text>
<path d="M1564 304.1h54a2 2 0 0 1 2 2v12.8a2 2 0 0 1 -2 2h-54z" fill="#1f7d48"/>
<text x="1572" y="316.8" font-size="12" fill="#fff" textLength="42" lengthAdjust="spacingAndGlyphs" font-weight="bold">1.23749</text>
<path d="M1564 456h54a2 2 0 0 1 2 2v13a2 2 0 0 1 -2 2h-54z" fill="#1e222d"/><text x="1572" y="468.8" font-size="12" fill="#fff" font-weight="bold" textLength="42" lengthAdjust="spacingAndGlyphs">1.21597</text>
<path d="M1564 629h41a2 2 0 0 1 2 2v13a2 2 0 0 1 -2 2h-41z" fill="#7e57c2"/><text x="1572" y="641.8" font-size="12" fill="#fff" font-weight="bold" textLength="29.5" lengthAdjust="spacingAndGlyphs">42.65</text>
<text x="67.7" y="746" font-size="12" fill="#131722" text-anchor="middle">8</text>
<text x="165.7" y="746" font-size="12" fill="#131722" text-anchor="middle">12</text>
<text x="264.7" y="746" font-size="12" fill="#131722" text-anchor="middle">17</text>
<text x="358.7" y="746" font-size="12" fill="#131722" text-anchor="middle">20</text>
<text x="456.7" y="746" font-size="12" fill="#131722" text-anchor="middle">25</text>
<text x="592.7" y="746" font-size="12" fill="#131722" text-anchor="middle" font-weight="bold">2025</text>
<text x="695.7" y="746" font-size="12" fill="#131722" text-anchor="middle">7</text>
<text x="789.7" y="746" font-size="12" fill="#131722" text-anchor="middle">10</text>
<text x="888.7" y="746" font-size="12" fill="#131722" text-anchor="middle">15</text>
<text x="981.7" y="746" font-size="12" fill="#131722" text-anchor="middle">19</text>
<text x="1080.7" y="746" font-size="12" fill="#131722" text-anchor="middle">23</text>
<text x="1179.7" y="746" font-size="12" fill="#131722" text-anchor="middle">28</text>
<text x="1304.7" y="746" font-size="12" fill="#131722" text-anchor="middle">Feb</text>
<text x="1402.7" y="746" font-size="12" fill="#131722" text-anchor="middle">6</text>
<text x="1501.7" y="746" font-size="12" fill="#131722" text-anchor="middle">11</text>
<path d="M1588 743l3.5-6h7l3.5 6-3.5 6h-7z" stroke="#131722" stroke-width="1.3" fill="none" stroke-linejoin="round"/><circle cx="1595" cy="743" r="2" stroke="#131722" stroke-width="1.3" fill="none"/>
</svg></body></html>
